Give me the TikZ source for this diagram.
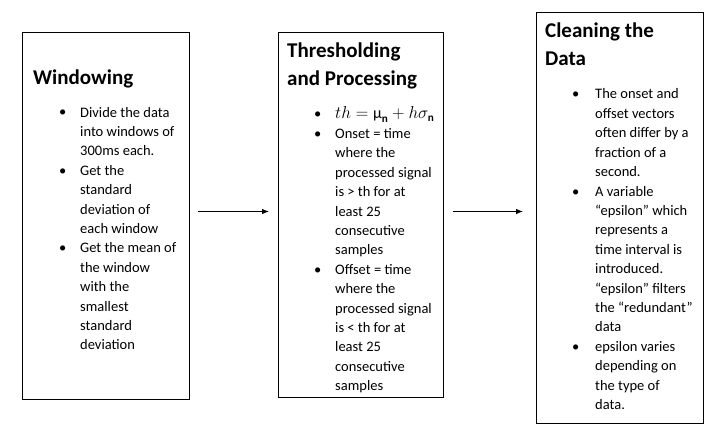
\documentclass[tikz,border=0pt]{standalone}
\usepackage{fontspec}
\setmainfont{Carlito}
\usetikzlibrary{arrows.meta}
\begin{document}
\begin{tikzpicture}[x=1pt,y=-1pt,
  stagebox/.style={draw=black,line width=1pt,rectangle,inner sep=0pt,anchor=north west},
  ttl/.style={anchor=base west,inner sep=0pt,align=left,font=\fontsize{21}{28}\selectfont\bfseries},
  body/.style={anchor=base west,inner sep=0pt,align=left,font=\fontsize{14.5}{19.4}\selectfont},
  bul/.style={anchor=base west,inner sep=0pt,font=\fontsize{14.5}{19.4}\selectfont},
  arr/.style={line width=0.8pt,-{Latex[length=7pt,width=5.5pt]}}]
\useasboundingbox[fill=white] (0,0) rectangle (728,441);
% boxes
\node[stagebox,minimum width=167pt,minimum height=367pt] (b1) at (22,32) {};
\node[stagebox,minimum width=165pt,minimum height=365pt] (b2) at (278,32) {};
\node[stagebox,minimum width=167pt,minimum height=411pt] (b3) at (536,12) {};
% box 1 (multi-line nodes are placed by the baseline of their last line)
\node[ttl] (t1) at (33,85) {Windowing};
\node[bul] (p11) at (59,117) {•};
\node[body] (x11) at (80,155.8) {Divide the data\\into windows of\\300ms each.};
\node[bul] (p12) at (59,175.2) {•};
\node[body] (x12) at (80,233.4) {Get the\\standard\\deviation of\\each window};
\node[bul] (p13) at (59,252.8) {•};
\node[body] (x13) at (80,349.8) {Get the mean of\\the window\\with the\\smallest\\standard\\deviation};
% box 2
\node[ttl] (t2) at (287,86) {Thresholding\\and Processing};
\node[bul] (p21) at (314,119) {•};
\node[body,font=\fontsize{16}{19.4}\selectfont] (x21) at (335,119) {$th=\mbox{μ}_{\mathbf{n}}+h\sigma_{\mathbf{n}}$};
\node[bul] (p22) at (314,138.4) {•};
\node[body] (x22) at (335,254.8) {Onset = time\\where the\\processed signal\\is > th for at\\least 25\\consecutive\\samples};
\node[bul] (p23) at (314,274.2) {•};
\node[body] (x23) at (335,390.6) {Offset = time\\where the\\processed signal\\is < th for at\\least 25\\consecutive\\samples};
% box 3
\node[ttl] (t3) at (545,66) {Cleaning the\\Data};
\node[bul] (p31) at (572,99) {•};
\node[body] (x31) at (595,176.6) {The onset and\\offset vectors\\often differ by a\\fraction of a\\second.};
\node[bul] (p32) at (572,196) {•};
\node[body] (x32) at (595,331.8) {A variable\\“epsilon” which\\represents a\\time interval is\\introduced.\\“epsilon” filters\\the “redundant”\\data};
\node[bul] (p33) at (572,351.2) {•};
\node[body] (x33) at (595,409.4) {epsilon varies\\depending on\\the type of\\data.};
% arrows
\draw[arr] ([xshift=8pt,yshift=4.5pt]b1.east) -- ([xshift=-9pt,yshift=3.5pt]b2.west);
\draw[arr] ([xshift=9pt,yshift=3.5pt]b2.east) -- ([xshift=-13pt,yshift=6.5pt]b3.west);
\end{tikzpicture}
\end{document}
